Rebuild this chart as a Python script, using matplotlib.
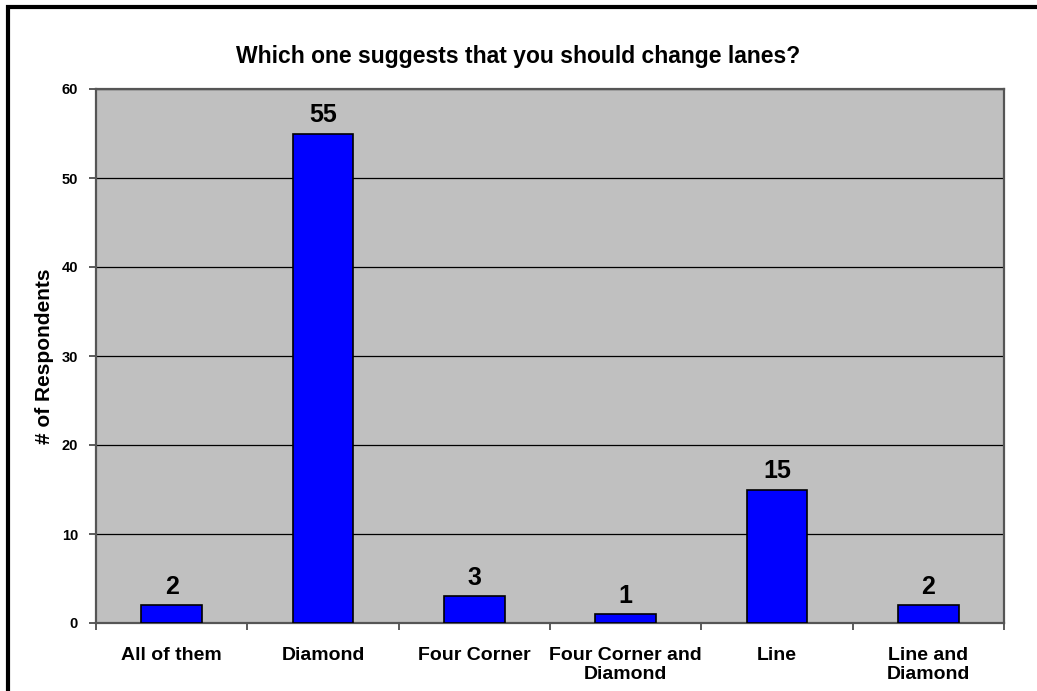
import matplotlib.pyplot as plt
from matplotlib.patches import Rectangle

categories = ["All of them", "Diamond", "Four Corner", "Four Corner and\nDiamond",
              "Line", "Line and\nDiamond"]
counts = [2, 55, 3, 1, 15, 2]
y_ticks = [0, 10, 20, 30, 40, 50, 60]

W, H = 1037, 691
fig = plt.figure(figsize=(W / 100, H / 100), dpi=100)
plt.rcParams['font.family'] = ['Liberation Sans', 'DejaVu Sans']

# plot area placed in pixel terms
left, top, right, bottom = 96, 89, 1004, 623
ax = fig.add_axes([left / W, 1 - bottom / H, (right - left) / W, (bottom - top) / H])
ax.set_facecolor('#C0C0C0')

x = list(range(len(categories)))
ax.bar(x, counts, width=0.4, color='#0000FF', edgecolor='black', linewidth=1.2, zorder=3)
for xi, v in zip(x, counts):
    ax.text(xi, v + 1.3, str(v), ha='center', va='baseline', fontsize=18,
            fontweight='bold', zorder=4)

ax.set_xlim(-0.5, len(categories) - 0.5)
ax.set_ylim(0, 60)
ax.set_yticks(y_ticks)
ax.set_yticklabels([str(t) for t in y_ticks], fontsize=10.5, fontweight='bold')
ax.yaxis.grid(True, color='black', linewidth=0.9, zorder=1)
ax.set_axisbelow(True)

# category labels sit between the boundary ticks
ax.set_xticks([i - 0.5 for i in range(len(categories) + 1)])
ax.set_xticklabels([])
ax.set_xticks(x, minor=True)
ax.set_xticklabels(categories, minor=True, fontsize=14, fontweight='bold',
                   va='top', linespacing=1.2)
ax.tick_params(axis='x', which='minor', length=0, pad=17)
ax.tick_params(axis='x', which='major', length=5, width=1.2, color='#404040')
ax.tick_params(axis='y', length=5, width=1.2, color='#404040', pad=8)

for s in ax.spines.values():
    s.set_color('#555555')
    s.set_linewidth(1.6)

ax.set_ylabel('# of Respondents', fontsize=15, fontweight='bold', labelpad=5)
fig.text(518 / W, 1 - 57 / H, 'Which one suggests that you should change lanes?',
         ha='center', va='center', fontsize=16.5, fontweight='bold')

# outer chart frame (runs off the right and bottom edges)
fig.patches.append(Rectangle((7.5 / W, -0.1), 1.2, 1 - 6.5 / H + 0.1,
                             transform=fig.transFigure, fill=False,
                             edgecolor='black', linewidth=3))

fig.savefig('out.png', dpi=100)
